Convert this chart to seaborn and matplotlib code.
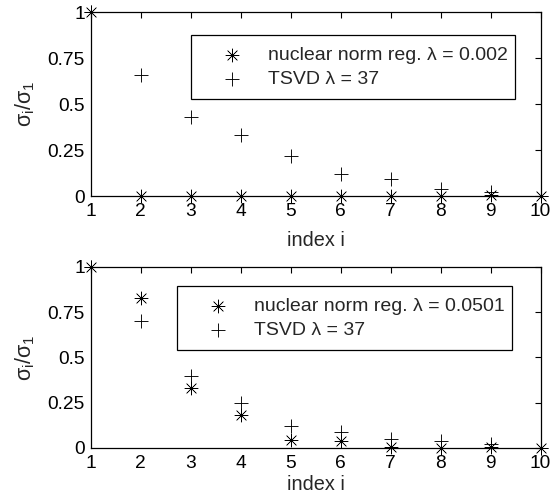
import matplotlib
matplotlib.use("Agg")
import matplotlib.pyplot as plt
import seaborn as sns
import numpy as np
import pandas as pd

index = list(range(1, 11))
nuc_top = [1.0, 0.002, 0.002, 0.002, 0.002, 0.002, 0.002, 0.002, 0.005, 0.0]
tsvd_top = [1.0, 0.66, 0.43, 0.33, 0.22, 0.12, 0.09, 0.04, 0.02, 0.0]
nuc_bot = [1.0, 0.83, 0.33, 0.18, 0.045, 0.04, 0.005, 0.0, 0.005, 0.0]
tsvd_bot = [1.0, 0.70, 0.40, 0.25, 0.12, 0.09, 0.05, 0.04, 0.02, 0.0]
label_nuc_top = "nuclear norm reg. λ = 0.002"
label_nuc_bot = "nuclear norm reg. λ = 0.0501"
label_tsvd = "TSVD λ = 37"
yticks = [0, 0.25, 0.5, 0.75, 1]
yticklabels = ["0", "0.25", "0.5", "0.75", "1"]

sns.set_theme(style="white")
plt.rcParams["font.family"] = ["Liberation Sans", "DejaVu Sans"]
plt.rcParams["mathtext.fontset"] = "custom"
plt.rcParams["mathtext.rm"] = "Liberation Sans"
plt.rcParams["mathtext.it"] = "Liberation Sans"
plt.rcParams["mathtext.bf"] = "Liberation Sans"

fig = plt.figure(figsize=(5.54, 4.97), dpi=100)
ax_top = fig.add_axes([0.1634, 0.6056, 0.8123, 0.3702])
ax_bot = fig.add_axes([0.1634, 0.0986, 0.8123, 0.3642])

ast = (8, 2, 0)

def draw(ax, nuc, tsvd, lab_nuc, legend_box, xlabelpad):
    df = pd.DataFrame({"i": index, "nuc": nuc, "tsvd": tsvd})
    sns.scatterplot(data=df, x="i", y="nuc", marker=ast, s=90, color="black",
                    linewidth=0.45, ax=ax, label=lab_nuc, clip_on=False, zorder=3)
    sns.scatterplot(data=df, x="i", y="tsvd", marker="+", s=95, color="black",
                    linewidth=0.65, ax=ax, label=label_tsvd, clip_on=False, zorder=3)
    ax.set_xlim(1, 10)
    ax.set_ylim(0, 1)
    ax.set_xticks(index)
    ax.set_xticklabels([str(v) for v in index])
    ax.set_yticks(yticks)
    ax.set_yticklabels(yticklabels)
    ax.tick_params(direction="in", top=True, right=True, length=4, width=0.8,
                   labelsize=13.8, colors="black", pad=4)
    ax.tick_params(axis="x", pad=5)
    for s in ax.spines.values():
        s.set_color("black")
        s.set_linewidth(0.9)
        s.set_visible(True)
    ax.set_xlabel("index i", fontsize=14.3, labelpad=xlabelpad)
    ax.set_ylabel(r"$\sigma_{i}/\sigma_{1}$", fontsize=15.5, labelpad=8)
    leg = ax.legend(loc="upper left", bbox_to_anchor=legend_box, mode="expand",
                    fontsize=14, frameon=True, fancybox=False, edgecolor="black",
                    framealpha=1, borderpad=0.6, handletextpad=0.36,
                    labelspacing=0.3, borderaxespad=0, handlelength=3.0)
    leg.get_frame().set_linewidth(0.9)

draw(ax_top, nuc_top, tsvd_top, label_nuc_top, (0.224, 0.522, 0.72, 0.353), 8)
draw(ax_bot, nuc_bot, tsvd_bot, label_nuc_bot, (0.193, 0.536, 0.743, 0.359), 2)

fig.savefig("out.png", dpi=100)
